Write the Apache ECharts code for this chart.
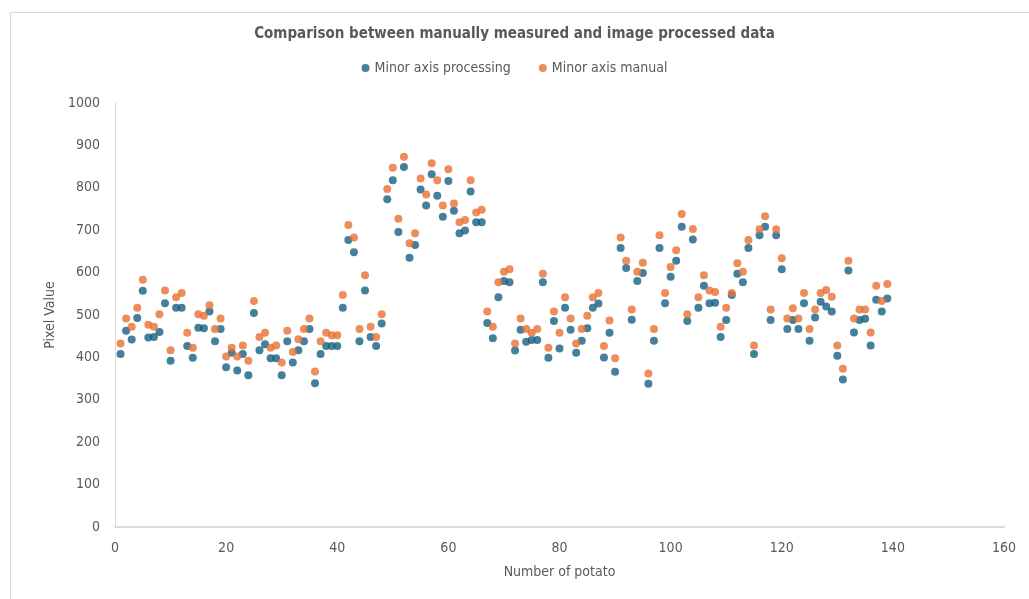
<!DOCTYPE html>
<html>
<head>
<meta charset="utf-8">
<title>Minor axis comparison</title>
<script src="https://cdn.jsdelivr.net/npm/echarts@6/dist/echarts.min.js"></script>
<style>
  html, body { margin: 0; padding: 0; background: #fff; }
  #chart { width: 1029px; height: 599px; }
</style>
</head>
<body>
<div id="chart"></div>
<script>
// potato number runs 1..139
const processing = [
  408, 463, 442, 493, 557, 447, 448, 460, 528, 392,
  517, 517, 427, 399, 470, 469, 508, 438, 467, 377,
  411, 369, 408, 358, 505, 417, 431, 398, 398, 358,
  438, 388, 417, 438, 467, 339, 408, 427, 427, 427,
  517, 677, 648, 438, 558, 448, 427, 480, 773, 818,
  696, 849, 635, 665, 796, 758, 832, 781, 732, 816,
  746, 693, 699, 791, 719, 719, 481, 445, 542, 580,
  577, 416, 465, 437, 441, 441, 577, 399, 486, 421,
  517, 465, 411, 439, 469, 517, 527, 400, 458, 366,
  658, 611, 489, 580, 599, 338, 439, 658, 528, 590,
  628, 708, 486, 678, 517, 569, 528, 529, 448, 488,
  547, 597, 577, 658, 408, 688, 708, 488, 688, 608,
  467, 488, 467, 528, 439, 494, 531, 520, 508, 404,
  348, 605, 459, 488, 491, 428, 536, 508, 539
];
const manual = [
  433, 492, 472, 517, 583, 477, 472, 502, 558, 417,
  542, 552, 458, 423, 502, 498, 523, 467, 492, 402,
  423, 402, 428, 392, 533, 448, 458, 423, 428, 388,
  463, 413, 443, 467, 492, 367, 438, 458, 452, 452,
  547, 712, 683, 467, 594, 472, 448, 502, 797, 847,
  727, 873, 669, 693, 822, 784, 858, 818, 758, 844,
  763, 719, 724, 818, 742, 748, 508, 472, 577, 602,
  608, 433, 492, 467, 458, 467, 597, 423, 508, 458,
  542, 492, 433, 467, 498, 542, 552, 427, 487, 398,
  683, 628, 513, 602, 623, 362, 467, 688, 552, 613,
  653, 738, 502, 703, 542, 594, 558, 554, 472, 517,
  552, 622, 602, 677, 428, 702, 733, 513, 702, 634,
  492, 516, 492, 552, 467, 513, 552, 559, 543, 428,
  373, 628, 492, 513, 513, 459, 569, 533, 573
];
const seriesNames = ['Minor axis processing', 'Minor axis manual'];
const seriesColors = ['#156082', '#E97132'];

const FONT = "'Liberation Sans Narrow', 'DejaVu Sans Condensed', sans-serif";
const GREY_TEXT = '#595959';

function toPoints(values) {
  return values.map((v, i) => [i + 1, v]);
}

const chart = echarts.init(document.getElementById('chart'));

chart.setOption({
  animation: false,
  backgroundColor: '#fff',
  graphic: [{
    type: 'rect',
    left: 8, top: 10,
    shape: { width: 1100, height: 700 },
    style: { fill: 'none', stroke: '#d9d9d9', lineWidth: 1 },
    silent: true
  }],
  title: {
    text: 'Comparison between manually measured and image processed data',
    left: 'center',
    top: 22,
    textStyle: { fontFamily: FONT, fontSize: 15, fontWeight: 'bold', color: GREY_TEXT }
  },
  legend: {
    top: 56,
    left: 'center',
    itemGap: 28,
    itemWidth: 8,
    itemHeight: 8,
    data: seriesNames.map(n => ({ name: n, icon: 'circle' })),
    textStyle: { fontFamily: FONT, fontSize: 14, color: GREY_TEXT }
  },
  grid: { left: 115, right: 25, top: 103, bottom: 72 },
  xAxis: {
    type: 'value',
    min: 0, max: 160, interval: 20,
    name: 'Number of potato',
    nameLocation: 'middle',
    nameGap: 38,
    nameTextStyle: { fontFamily: FONT, fontSize: 14, color: GREY_TEXT },
    axisLine: { lineStyle: { color: '#d9d9d9', width: 2 } },
    axisTick: { show: false },
    splitLine: { show: false },
    axisLabel: { fontFamily: FONT, fontSize: 14, color: GREY_TEXT, margin: 14 }
  },
  yAxis: {
    type: 'value',
    min: 0, max: 1000, interval: 100,
    name: 'Pixel Value',
    nameLocation: 'middle',
    nameGap: 47,
    nameRotate: 90,
    nameTextStyle: { fontFamily: FONT, fontSize: 14, color: GREY_TEXT },
    axisLine: { show: true, lineStyle: { color: '#d9d9d9', width: 1 } },
    axisTick: { show: false },
    splitLine: { show: false },
    axisLabel: { fontFamily: FONT, fontSize: 14, color: GREY_TEXT, margin: 15, formatter: v => String(v) }
  },
  series: [processing, manual].map((vals, k) => ({
    name: seriesNames[k],
    type: 'scatter',
    symbol: 'circle',
    symbolSize: 8,
    itemStyle: { color: seriesColors[k] },
    data: toPoints(vals)
  }))
});
</script>
</body>
</html>
